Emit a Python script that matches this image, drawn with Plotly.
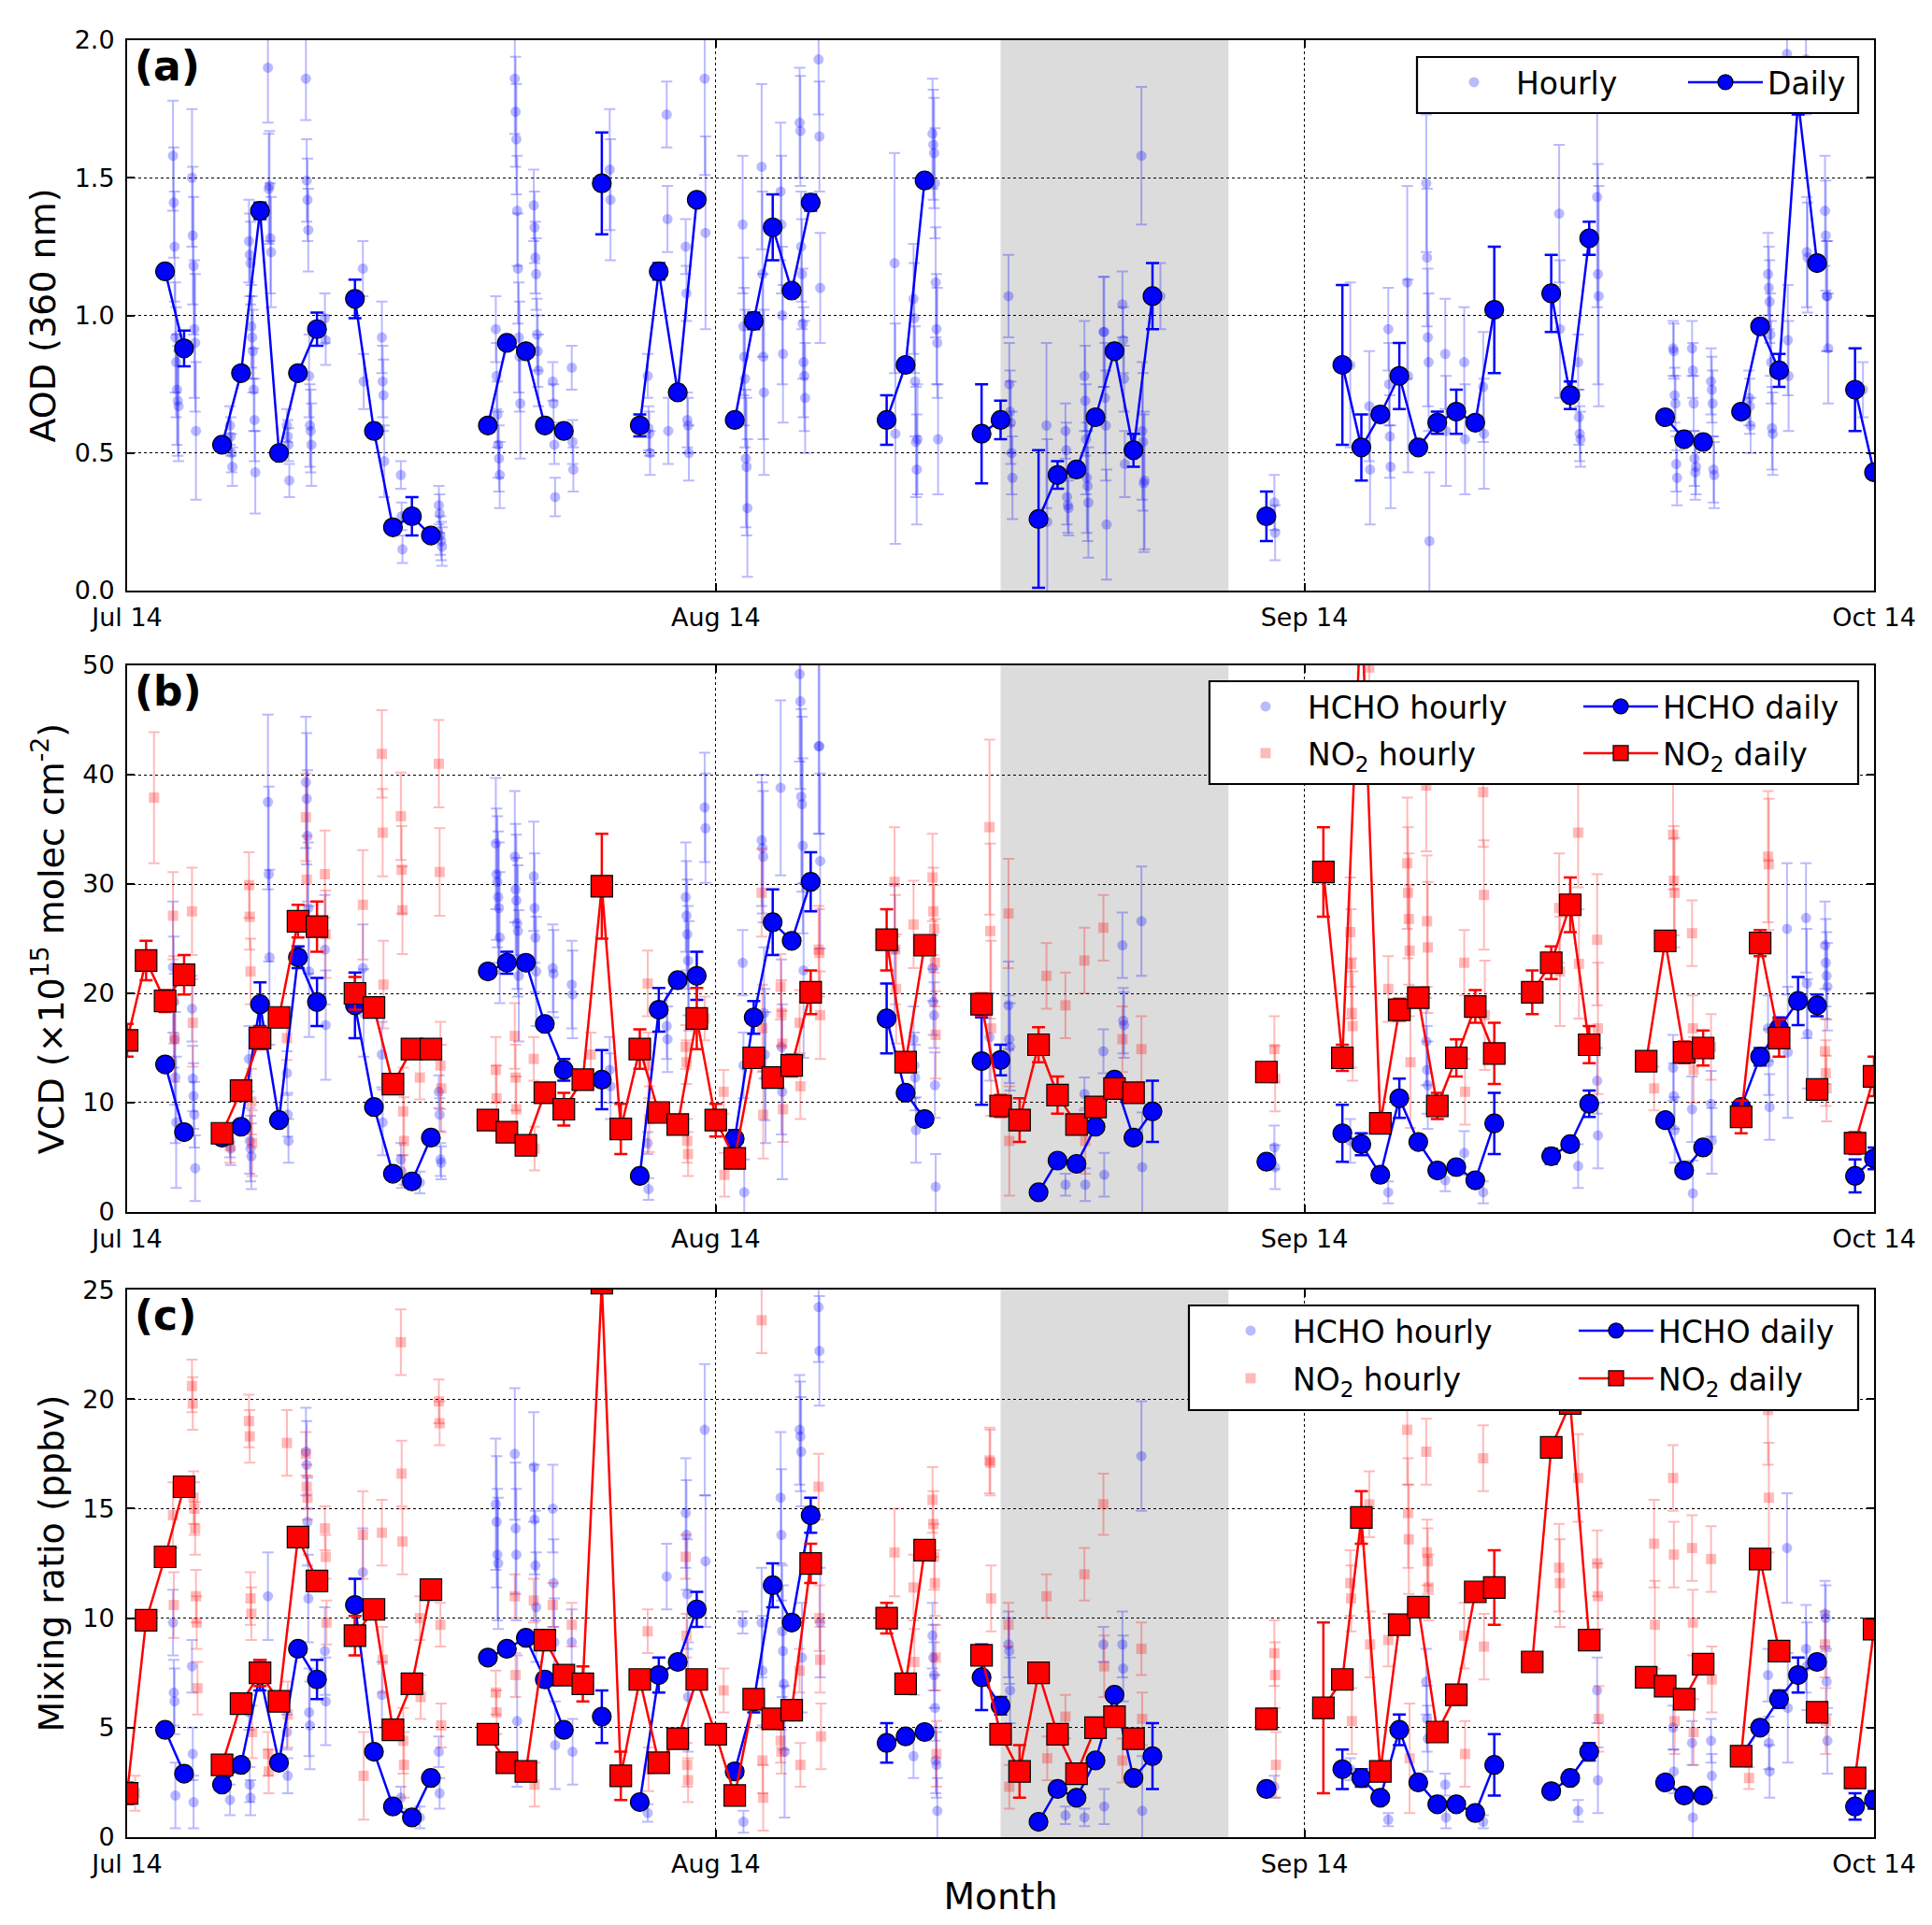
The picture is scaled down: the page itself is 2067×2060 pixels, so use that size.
import pandas as pd
import plotly.graph_objects as go
from plotly.subplots import make_subplots

START = pd.Timestamp("2016-07-14")
END = pd.Timestamp("2016-10-14")
SPAN_START = pd.Timestamp("2016-08-29")
SPAN_END = pd.Timestamp("2016-09-10")

tick_dates = ["2016-07-14", "2016-08-14", "2016-09-14", "2016-10-14"]
tick_text = ["Jul 14", "Aug 14", "Sep 14", "Oct 14"]

# ---- daily data (days counted from Jul 14) ----
hcho_days = [2, 3, 5, 6, 7, 8, 9, 10, 12, 13, 14, 15, 16, 19, 20, 21, 22, 23, 25,
             27, 28, 29, 30, 32, 33, 34, 35, 36, 40, 41, 42, 45, 46, 48, 49, 50, 51,
             52, 53, 54, 60, 64, 65, 66, 67, 68, 69, 70, 71, 72, 75, 76, 77, 81, 82,
             83, 85, 86, 87, 88, 89, 91, 92]
no2_days = [0, 1, 2, 3, 5, 6, 7, 8, 9, 10, 12, 13, 14, 15, 16, 19, 20, 21, 22, 23,
            24, 25, 26, 27, 28, 29, 30, 31, 32, 33, 34, 35, 36, 40, 41, 42, 45, 46,
            47, 48, 49, 50, 51, 52, 53, 60, 63, 64, 65, 66, 67, 68, 69, 70, 71, 72,
            74, 75, 76, 77, 80, 81, 82, 83, 85, 86, 87, 89, 91, 92]

aod_daily = [1.16, 0.88, 0.53, 0.79, 1.38, 0.50, 0.79, 0.95, 1.06, 0.58, 0.23, 0.27, 0.20,
             0.60, 0.90, 0.87, 0.60, 0.58, 1.48, 0.60, 1.16, 0.72, 1.42, 0.62, 0.98, 1.32,
             1.09, 1.41, 0.62, 0.82, 1.49, 0.57, 0.62, 0.26, 0.42, 0.44, 0.63, 0.87, 0.51,
             1.07, 0.27, 0.82, 0.52, 0.64, 0.78, 0.52, 0.61, 0.65, 0.61, 1.02, 1.08, 0.71,
             1.28, 0.63, 0.55, 0.54, 0.65, 0.96, 0.80, 1.78, 1.19, 0.73, 0.43]
aod_daily_err = [0.02, 0.065, 0.02, 0.02, 0.03, 0.02, 0.02, 0.06, 0.07, 0.02, 0.02, 0.07, 0.02,
                 0.02, 0.02, 0.02, 0.02, 0.02, 0.185, 0.04, 0.03, 0.02, 0.02, 0.02, 0.03, 0.12,
                 0.02, 0.03, 0.09, 0.02, 0.02, 0.18, 0.07, 0.25, 0.05, 0.02, 0.02, 0.02, 0.06,
                 0.12, 0.09, 0.29, 0.12, 0.02, 0.12, 0.02, 0.04, 0.08, 0.02, 0.23, 0.14, 0.05,
                 0.06, 0.02, 0.02, 0.02, 0.02, 0.02, 0.06, 0.05, 0.02, 0.15, 0.02]

hcho_vcd_daily = [13.5, 7.3, 6.8, 7.8, 19.0, 8.4, 23.3, 19.2, 18.9, 9.6, 3.5, 2.8, 6.8,
                  22.0, 22.8, 22.8, 17.2, 13.0, 12.1, 3.3, 18.5, 21.2, 21.6, 6.7, 17.8, 26.5,
                  24.8, 30.2, 17.7, 10.9, 8.5, 13.8, 13.9, 1.8, 4.7, 4.4, 7.8, 12.1, 6.8,
                  9.2, 4.6, 7.2, 6.2, 3.4, 10.4, 6.4, 3.8, 4.1, 2.9, 8.1, 5.1, 6.2,
                  9.9, 8.4, 3.8, 5.9, 9.6, 14.2, 16.8, 19.3, 18.9, 3.3, 4.9]
hcho_vcd_daily_err = [0.5, 0.5, 0.5, 0.5, 2.0, 0.5, 1.0, 2.2, 3.0, 0.5, 0.5, 0.5, 0.5,
                      0.5, 1.0, 0.5, 0.5, 1.0, 2.7, 0.5, 2.0, 0.5, 2.2, 0.8, 1.5, 3.0,
                      0.5, 2.7, 3.2, 0.5, 0.5, 4.0, 1.4, 0.5, 0.5, 0.5, 0.5, 0.5, 0.5,
                      2.8, 0.5, 2.6, 1.0, 0.5, 1.8, 0.5, 0.5, 0.5, 0.5, 2.8, 0.7, 0.5,
                      1.2, 0.5, 0.5, 0.5, 0.5, 0.8, 1.0, 2.2, 1.0, 1.5, 1.0]

no2_vcd_daily = [15.7, 23.0, 19.3, 21.7, 7.2, 11.1, 15.9, 17.8, 26.6, 26.1, 20.0, 18.7, 11.7,
                 14.9, 14.9, 8.4, 7.3, 6.1, 10.9, 9.4, 12.1, 29.8, 7.6, 14.9, 9.1, 8.0, 17.7,
                 8.4, 4.9, 14.1, 12.3, 13.4, 20.1, 24.9, 13.7, 24.4, 19.0, 9.7, 8.4, 15.3,
                 10.7, 8.0, 9.6, 11.3, 10.9, 12.8, 31.1, 14.1, 56.0, 8.1, 18.5, 19.6, 9.7,
                 14.1, 18.8, 14.5, 20.1, 22.8, 28.1, 15.3, 13.8, 24.8, 14.6, 15.0, 8.7, 24.6,
                 15.9, 11.2, 6.3, 12.4]
no2_vcd_daily_err = [1.5, 1.8, 1.0, 1.8, 0.5, 0.5, 1.0, 0.5, 1.5, 2.3, 1.5, 0.5, 0.5,
                     0.5, 0.5, 0.5, 0.5, 0.5, 0.5, 1.5, 0.5, 4.8, 2.3, 1.8, 0.5, 0.5, 2.8,
                     1.5, 0.5, 0.5, 0.5, 1.0, 2.0, 2.8, 0.5, 0.5, 1.0, 1.0, 2.0, 1.6,
                     1.7, 0.5, 0.5, 0.5, 0.5, 0.5, 4.1, 1.2, 1.0, 0.5, 1.0, 0.5, 1.2,
                     1.7, 1.5, 2.8, 2.0, 1.5, 2.5, 1.7, 0.5, 0.5, 1.0, 1.6, 1.5, 1.2,
                     1.7, 0.5, 1.0, 1.8]

hcho_mr_daily = [4.9, 2.9, 2.4, 3.3, 7.4, 3.4, 8.6, 7.2, 10.6, 3.9, 1.4, 0.9, 2.7,
                 8.2, 8.6, 9.1, 7.2, 4.9, 5.5, 1.6, 7.4, 8.0, 10.4, 3.0, 6.2, 11.5,
                 9.8, 14.7, 4.3, 4.6, 4.8, 7.3, 6.0, 0.7, 2.2, 1.8, 3.5, 6.5, 2.7,
                 3.7, 2.2, 3.1, 2.7, 1.8, 4.9, 2.5, 1.5, 1.5, 1.1, 3.3, 2.1, 2.7,
                 3.9, 2.5, 1.9, 1.9, 3.7, 5.0, 6.3, 7.4, 8.0, 1.4, 1.7]
hcho_mr_daily_err = [0.2, 0.2, 0.2, 0.2, 0.7, 0.2, 0.2, 0.9, 1.2, 0.2, 0.2, 0.2, 0.2,
                     0.2, 0.2, 0.2, 0.2, 0.2, 1.2, 0.2, 0.8, 0.2, 0.8, 0.3, 0.5, 1.0,
                     0.2, 0.8, 0.9, 0.2, 0.2, 1.5, 0.4, 0.2, 0.2, 0.2, 0.2, 0.2, 0.2,
                     1.5, 0.2, 0.9, 0.4, 0.2, 0.7, 0.2, 0.2, 0.2, 0.2, 1.4, 0.3, 0.2,
                     0.4, 0.2, 0.2, 0.2, 0.2, 0.3, 0.4, 0.8, 0.3, 0.6, 0.4]

no2_mr_daily = [2.0, 9.9, 12.8, 16.0, 3.3, 6.1, 7.5, 6.2, 13.7, 11.7, 9.2, 10.4, 4.9,
                7.0, 11.3, 4.7, 3.4, 3.0, 9.0, 7.4, 7.0, 25.3, 2.8, 7.2, 3.4, 4.5, 7.2,
                4.7, 1.9, 6.3, 5.4, 5.8, 12.5, 10.0, 7.0, 13.1, 8.3, 4.7, 3.0, 7.5,
                4.7, 2.9, 5.0, 5.5, 4.5, 5.4, 5.9, 7.2, 14.6, 3.0, 9.7, 10.5, 4.8,
                6.5, 11.2, 11.4, 8.0, 17.8, 19.8, 9.0, 7.3, 6.9, 6.3, 7.9, 3.7, 12.7,
                8.5, 5.7, 2.7, 9.5]
no2_mr_daily_err = [0.5, 0.3, 0.3, 0.3, 0.2, 0.2, 0.6, 0.2, 0.2, 0.3, 0.9, 0.2, 0.2,
                    0.2, 0.2, 0.2, 0.2, 0.2, 0.2, 0.2, 0.8, 0.4, 1.1, 0.2, 0.2, 0.2, 0.2,
                    0.2, 0.2, 0.2, 0.2, 0.2, 0.9, 0.7, 0.2, 0.2, 0.2, 0.2, 1.2, 0.1,
                    0.2, 0.2, 0.2, 0.2, 0.2, 0.2, 3.9, 0.3, 1.2, 0.2, 0.3, 0.3, 0.3,
                    0.3, 0.3, 1.7, 0.2, 0.3, 0.3, 0.3, 0.2, 0.2, 0.2, 0.2, 0.2, 0.3,
                    0.3, 0.2, 0.2, 0.3]

# ---- hourly data: day, values from 10 h local onwards, one error per day ----
aod_hr_days = [2, 3, 5, 6, 7, 8, 9, 10, 12, 13, 14, 16, 19, 20, 21, 22, 23, 25, 27, 28,
               29, 30, 32, 33, 34, 35, 36, 40, 41, 42, 46, 48, 49, 50, 51, 52, 53, 54,
               60, 64, 65, 66, 67, 68, 69, 70, 71, 75, 76, 77, 81, 82, 83, 85, 86, 87,
               88, 89, 91]
aod_hr = [[1.58, 1.41, 1.25, 0.92, 0.83, 0.73, 0.69, 0.67], [1.50, 1.29, 1.18, 0.95, 0.90, 0.58],
          [0.60, 0.56, 0.50, 0.45], [1.27, 1.22, 1.19, 0.96, 0.92, 0.87, 0.73, 0.62, 0.43],
          [1.90, 1.46, 1.47, 1.28, 1.23], [0.60, 0.56, 0.53, 0.40],
          [1.86, 1.49, 1.42, 1.31, 0.78, 0.60, 0.58, 0.53], [0.99, 0.91], [1.17, 0.76],
          [0.92, 0.76, 0.71, 0.47], [0.42, 0.27, 0.15], [0.31, 0.28, 0.20, 0.18, 0.16],
          [0.95, 0.78, 0.64, 0.53, 0.48, 0.42], [1.86, 1.74, 1.64, 1.38, 1.17, 0.92, 0.85, 0.68],
          [1.40, 1.32, 1.21, 1.15, 0.93, 0.87, 0.80], [0.76, 0.68, 0.53, 0.34], [0.81, 0.54, 0.44],
          [1.53, 1.42], [0.78, 0.59, 0.57, 0.50], [1.73, 1.35, 0.58], [1.25, 1.08, 0.62, 0.60, 0.50],
          [1.86, 1.30], [1.33, 0.96, 0.85, 0.77, 0.48, 0.45, 0.30], [1.54, 1.15, 0.85, 0.72],
          [1.45, 1.33, 1.00, 0.86], [1.70, 1.67, 1.25, 1.15, 0.97, 0.83, 0.78, 0.70],
          [1.93, 1.65, 1.10], [1.19, 0.57], [1.06, 0.99, 0.76, 0.54, 0.44, 0.55],
          [1.66, 1.62, 1.59, 1.48, 1.12, 0.95, 0.90, 0.55], [1.07, 0.75, 0.65, 0.61, 0.50, 0.41],
          [0.60, 0.25], [0.58, 0.51, 0.34, 0.31, 0.30], [0.78, 0.69, 0.55, 0.41, 0.38, 0.32],
          [0.94, 0.94, 0.70, 0.60, 0.24], [1.04, 0.91, 0.77, 0.46], [1.58, 0.58, 0.54, 0.39, 0.40],
          [1.07], [0.32, 0.21], [0.82], [0.67, 0.44], [0.95, 0.75, 0.56, 0.45], [1.12, 0.78],
          [1.48, 1.21, 0.92, 0.83, 0.18], [0.86, 0.58], [0.83, 0.55], [0.74, 0.57], [1.37, 0.95],
          [0.83, 0.63, 0.57, 0.55], [1.43, 1.15, 1.07], [0.88, 0.87, 0.71, 0.68, 0.46, 0.41],
          [0.88, 0.80, 0.68, 0.48, 0.43, 0.45], [0.76, 0.73, 0.68, 0.44, 0.42], [0.70, 0.67, 0.60],
          [1.15, 1.10, 1.05, 0.93, 0.83, 0.59, 0.57], [1.95, 0.91, 0.78], [1.93, 1.23, 1.21],
          [1.38, 1.29, 1.07, 1.07, 0.88], [0.73]]
aod_hr_err = [0.2, 0.25, 0.07, 0.15, 0.2, 0.06, 0.15, 0.09, 0.1, 0.13, 0.05, 0.07, 0.12, 0.2,
              0.13, 0.07, 0.08, 0.22, 0.08, 0.12, 0.1, 0.35, 0.25, 0.3, 0.25, 0.2, 0.2, 0.4,
              0.2, 0.2, 0.15, 0.3, 0.1, 0.2, 0.2, 0.12, 0.25, 0.12, 0.1, 0.3, 0.2, 0.15,
              0.35, 0.25, 0.2, 0.2, 0.2, 0.25, 0.1, 0.4, 0.1, 0.1, 0.12, 0.1, 0.15, 0.2,
              0.2, 0.2, 0.1]

hcho_vcd_hr_days = [2, 3, 5, 6, 7, 8, 9, 10, 12, 13, 14, 15, 16, 19, 20, 21, 22, 23, 25, 27,
                    28, 29, 30, 32, 33, 34, 35, 36, 40, 41, 42, 45, 46, 49, 50, 51, 52, 53,
                    60, 64, 66, 68, 69, 70, 71, 76, 77, 81, 82, 83, 86, 87, 88, 89]
hcho_vcd_hr = [[22.4, 19.2, 15.8, 12.3, 8.2], [18.6, 12.2, 10.6, 8.9, 4.0], [6.5, 5.8],
               [14.0, 6.5, 5.8, 5.1], [37.5, 30.9, 23.3], [12.7, 8.9, 6.5],
               [39.3, 37.8, 34.4, 27.8, 22.0], [24.0, 17.1], [22.3, 18.2], [14.4, 8.2],
               [4.8, 3.7], [2.7], [11.0, 8.9, 4.8, 4.5], [33.7, 30.9, 30.2, 28.8, 27.8, 25.1],
               [32.5, 29.5, 28.5, 26.4, 25.7, 21.6], [30.7, 27.8, 25.1, 22.0], [22.3, 21.8],
               [20.8, 19.9], [13.0, 11.5], [6.3, 2.1], [17.0, 15.8], [28.8, 27.1, 25.4, 23.0, 21.6],
               [37.0, 35.1], [22.8, 13.4, 1.8], [34.0, 33.3, 32.5, 18.2, 14.4, 12.3],
               [38.8, 15.1, 11.0], [49.2, 46.7, 38.0, 37.3, 33.5, 22.1], [42.6, 42.6, 32.1],
               [24.0], [15.8, 13.4, 12.3, 7.5], [22.3, 19.2, 18.0, 11.6, 2.3], [16.0],
               [18.9, 15.8, 15.1], [2.5], [10.8, 2.5], [14.7, 3.4], [24.4, 17.5, 17.1],
               [26.6, 4.1], [5.9, 4.1], [6.5], [1.8], [15.6, 13.0, 11.6], [2.9], [5.4], [1.8],
               [4.2], [12.0, 7.0], [13.2, 10.6, 7.5], [9.4, 1.7], [9.9, 6.5], [16.8, 13.7, 9.6],
               [25.9, 14.6], [26.9, 20.9, 16.3], [24.4, 22.8, 21.6, 20.6]]
hcho_vcd_hr_err = [6, 3, 1.5, 3, 8, 2, 6, 5, 4, 3, 1.5, 1, 1.5, 6, 6, 5, 4, 4, 3, 1, 3, 5,
                   5, 3, 6, 8, 8, 8, 6, 3, 3, 4, 4, 1, 1.5, 2, 3, 5, 2, 2, 1, 4, 1, 2, 1,
                   2, 3, 3, 3, 3, 3, 6, 5, 4]

no2_vcd_hr_days = [1, 2, 3, 5, 6, 8, 9, 10, 12, 13, 14, 15, 16, 19, 20, 21, 24, 27, 29, 30,
                   31, 33, 34, 35, 36, 40, 41, 42, 45, 46, 48, 49, 50, 51, 52, 53, 60, 64,
                   65, 66, 67, 68, 70, 71, 75, 76, 77, 80, 81, 82, 83, 86, 89]
no2_vcd_hr = [[37.9], [27.1, 19.4, 15.9], [27.5, 17.3], [6.0], [29.9, 27.0, 22.0, 10.1, 6.3],
              [15.9], [36.1, 30.4], [30.9, 25.4], [28.1], [41.9, 34.7, 20.8],
              [36.2, 31.3, 27.6, 9.2, 6.5], [12.3], [41.0, 31.1, 13.4, 11.3], [13.0, 10.4],
              [16.1, 12.3, 9.4], [14.0, 5.8], [14.4], [20.9, 13.4, 8.5], [15.1, 13.7, 6.5, 5.3],
              [17.7], [11.0, 3.4], [29.2, 16.8, 8.9], [20.6, 18.2, 15.4, 9.4], [17.3, 11.5],
              [24.0, 23.7, 18.0], [30.2, 24.0, 20.4], [26.3], [30.6, 27.5, 25.9, 22.8, 16.2],
              [35.2, 25.7, 16.8], [27.3, 6.5], [21.6], [18.9], [23.0, 6.5], [26.0], [15.8],
              [14.9], [14.9, 12.2], [25.6, 22.7, 18.2, 17.0], [49.8], [20.4],
              [31.9, 29.2, 26.8, 23.9, 13.7], [39.0, 26.6, 24.2], [22.8, 11.0], [38.4, 29.0, 18.0],
              [27.8, 22.0], [34.7, 22.7], [24.9, 16.8], [11.3], [34.5, 30.3, 29.2],
              [25.5, 16.8, 13.0], [15.1], [32.5, 31.8], [14.7, 12.7, 11.3]]
no2_vcd_hr_err = [6, 4, 4, 1.5, 3, 2, 4, 4, 5, 4, 4, 2, 4, 3, 3, 2, 2, 3, 2, 2, 2, 4, 3, 3,
                  4, 5, 4, 4, 8, 5, 3, 3, 3, 3, 3, 3, 3, 5, 6, 3, 6, 6, 3, 5, 5, 5, 6, 2,
                  5, 3, 3, 6, 3]

hcho_mr_hr_days = [2, 3, 5, 6, 7, 8, 9, 10, 12, 13, 14, 15, 16, 19, 20, 21, 22, 23, 27, 28,
                   29, 30, 32, 33, 34, 35, 36, 41, 42, 46, 49, 50, 51, 52, 53, 60, 64, 66,
                   68, 69, 71, 76, 77, 81, 82, 83, 86, 87, 88, 89]
hcho_mr_hr = [[9.8, 6.6, 6.2, 1.9], [7.8, 3.8, 1.6], [1.7], [5.7, 2.4, 1.8], [11.0], [4.8, 2.8],
              [17.6, 17.0, 14.4, 10.9, 5.7, 5.1], [8.5, 6.2], [12.1], [6.5], [1.8], [0.9],
              [3.9, 2.0], [15.2, 14.4, 12.9, 12.5], [17.5, 14.1, 12.9, 5.3],
              [16.9, 14.5, 12.4, 10.5], [15.0, 11.6, 8.9, 4.2], [8.9, 3.9], [1.1], [11.9],
              [14.8, 13.8, 11.1, 6.4], [18.6, 12.6], [9.8, 0.7], [9.8, 7.6],
              [15.5, 13.8, 9.4, 8.5, 7.0, 3.9], [18.6, 18.3, 17.6, 8.2], [24.2, 22.2, 9.8], [3.7],
              [9.2, 8.2, 7.4, 5.9, 3.5, 3.3, 1.2], [8.8, 8.5, 6.7], [1.0], [0.9], [8.8, 1.4],
              [8.8, 7.7], [17.4, 1.2], [2.3], [3.1], [0.8], [7.1, 5.4, 4.5], [2.4, 0.9], [0.7],
              [1.2], [6.7, 2.6], [5.0, 3.0], [4.3, 0.9], [4.4, 2.8], [7.4, 4.3, 3.0], [13.2, 5.9],
              [8.6, 7.8], [10.2, 10.0, 7.1, 4.4]]
hcho_mr_hr_err = [1.5, 1.2, 0.7, 0.8, 2, 0.8, 2, 2, 2, 1.5, 0.5, 0.5, 0.7, 3, 3, 2.5, 2, 1.5,
                  0.4, 1.5, 2.5, 3, 0.5, 2.5, 3, 2.5, 2.5, 1, 1.5, 1.5, 0.4, 0.4, 0.8, 1.5,
                  2.5, 0.5, 0.5, 0.3, 1.5, 0.5, 0.3, 0.5, 1.5, 1, 1, 1, 1.2, 2.5, 2, 1.5]

no2_mr_hr_days = [0, 2, 3, 6, 7, 8, 9, 10, 12, 13, 14, 15, 16, 19, 20, 21, 22, 23, 27, 29,
                  31, 33, 34, 35, 36, 40, 41, 42, 45, 46, 48, 49, 50, 51, 52, 53, 60, 64,
                  65, 66, 67, 68, 70, 71, 75, 76, 77, 80, 81, 82, 83, 85, 86, 89]
no2_mr_hr = [[2.0], [14.7, 10.6], [20.6, 19.8, 15.5, 15.0, 14.1, 11.0, 9.8, 6.8],
             [19.0, 18.3, 10.9, 10.2, 4.8], [3.8, 3.0], [18.0, 5.6], [17.5, 16.0, 15.5],
             [14.1, 12.8, 9.8], [13.8, 2.8], [13.9, 8.1], [22.6, 16.6, 13.5, 4.4, 3.3], [10.0, 6.4],
             [19.9, 18.9, 9.7, 5.1], [6.6, 5.7], [11.0, 7.4], [10.8, 2.4], [10.6], [9.7], [9.4, 3.1],
             [12.8, 9.2, 3.3, 2.6], [6.7], [23.6, 3.5, 1.8], [4.4, 3.9], [7.6, 3.3],
             [16.0, 10.0, 8.1, 4.6], [13.0], [11.4, 8.0], [15.4, 14.3, 12.8, 11.6, 8.2, 3.8],
             [17.2, 17.1, 10.9], [9.7, 2.3], [11.0, 3.6], [5.5], [12.0], [15.2, 7.8], [3.5],
             [8.6, 5.4], [8.4, 7.4, 3.3], [11.6, 10.9, 5.3], [15.2, 8.8], [9.0],
             [18.6, 14.8, 13.6, 3.6], [17.6, 13.0, 12.6, 11.4], [9.2, 3.8], [17.3, 8.7],
             [12.3, 11.6], [16.4], [12.5, 11.0, 5.4], [13.4, 9.7], [16.4, 12.9, 5.3],
             [13.2, 9.8, 4.8], [12.7, 7.2], [2.7], [19.5, 15.5], [8.8, 5.3]]
no2_mr_hr_err = [0.8, 1.5, 1.2, 1.2, 1, 1.5, 1, 1, 2, 1.5, 1.5, 1, 1, 1, 1, 1, 1, 1, 1, 1, 1,
                 1.5, 1, 1, 1.5, 2, 1.5, 1.5, 1.5, 1, 1, 1, 1.2, 1.4, 1, 1.2, 1.5, 1.5, 1.5,
                 1.2, 2.5, 1.5, 1.5, 1.5, 2, 2, 1.5, 2, 1.5, 1.5, 1.5, 0.5, 2.5, 1.5]

BLUE = "#0000ff"
RED = "#ff0000"
BLUE_A = "rgba(0,0,255,0.27)"
RED_A = "rgba(255,0,0,0.27)"
FONT = "DejaVu Sans"

# figure geometry (px) used to place the legend boxes
W, H = 2067, 2060
ML, MR, MT, MB = 128, 70, 35, 102


def px_x(px):
    return (px - ML) / (W - ML - MR)


def px_y(py):
    return (H - MB - py) / (H - MT - MB)


def daily_series(days, vals, errs):
    look = {d: (v, e) for d, v, e in zip(days, vals, errs)}
    x = [START + pd.Timedelta(days=d) for d in range(93)]
    y = [look[d][0] if d in look else None for d in range(93)]
    e = [look[d][1] if d in look else 0 for d in range(93)]
    return x, y, e


def hourly_series(days, vals, errs):
    x, y, e = [], [], []
    for d, vs, er in zip(days, vals, errs):
        for i, v in enumerate(vs):
            x.append(START + pd.Timedelta(days=d, hours=10 + i))
            y.append(v)
            e.append(er)
    return x, y, e


fig = make_subplots(rows=3, cols=1)


def add_hourly(days, vals, errs, row, name, color, symbol, legend):
    x, y, e = hourly_series(days, vals, errs)
    fig.add_trace(go.Scatter(
        x=x, y=y, mode="markers", name=name, legend=legend, showlegend=True,
        marker=dict(size=11, color=color, symbol=symbol, line=dict(width=0)),
        error_y=dict(type="data", array=e, color=color, thickness=2, width=6),
    ), row=row, col=1)


def add_daily(days, vals, errs, row, name, color, symbol, size, legend):
    x, y, e = daily_series(days, vals, errs)
    fig.add_trace(go.Scatter(
        x=x, y=y, mode="lines+markers", name=name, legend=legend, showlegend=True,
        connectgaps=False,
        line=dict(color=color, width=2.5),
        marker=dict(size=size, color=color, symbol=symbol, line=dict(color="black", width=1.2)),
        error_y=dict(type="data", array=e, color=color, thickness=2.5, width=7),
    ), row=row, col=1)


NO2 = "NO<sub>2</sub>"

add_hourly(aod_hr_days, aod_hr, aod_hr_err, 1, "Hourly", BLUE_A, "circle", "legend")
add_daily(hcho_days, aod_daily, aod_daily_err, 1, "Daily", BLUE, "circle", 20, "legend2")

add_hourly(hcho_vcd_hr_days, hcho_vcd_hr, hcho_vcd_hr_err, 2, "HCHO hourly", BLUE_A, "circle", "legend3")
add_hourly(no2_vcd_hr_days, no2_vcd_hr, no2_vcd_hr_err, 2, NO2 + " hourly", RED_A, "square", "legend4")
add_daily(hcho_days, hcho_vcd_daily, hcho_vcd_daily_err, 2, "HCHO daily", BLUE, "circle", 20, "legend5")
add_daily(no2_days, no2_vcd_daily, no2_vcd_daily_err, 2, NO2 + " daily", RED, "square", 23, "legend6")

add_hourly(hcho_mr_hr_days, hcho_mr_hr, hcho_mr_hr_err, 3, "HCHO hourly", BLUE_A, "circle", "legend7")
add_hourly(no2_mr_hr_days, no2_mr_hr, no2_mr_hr_err, 3, NO2 + " hourly", RED_A, "square", "legend8")
add_daily(hcho_days, hcho_mr_daily, hcho_mr_daily_err, 3, "HCHO daily", BLUE, "circle", 20, "legend9")
add_daily(no2_days, no2_mr_daily, no2_mr_daily_err, 3, NO2 + " daily", RED, "square", 23, "legend10")

# shaded period
for r in (1, 2, 3):
    fig.add_vrect(x0=SPAN_START, x1=SPAN_END, row=r, col=1, fillcolor="#dcdcdc",
                  opacity=1, line_width=0, layer="below")

axis_common = dict(showline=True, linecolor="black", linewidth=2, mirror="ticks",
                   ticks="inside", ticklen=8, tickwidth=1.5, tickcolor="black",
                   showgrid=True, gridcolor="black", griddash="dot", gridwidth=1.3,
                   zeroline=False, tickfont=dict(size=27, color="black", family=FONT))

for r in (1, 2, 3):
    fig.update_xaxes(axis_common, row=r, col=1)
    fig.update_xaxes(type="date", range=[START, END], tickvals=tick_dates, ticktext=tick_text,
                     ticklabelstandoff=4, row=r, col=1)
    fig.update_yaxes(axis_common, row=r, col=1)
    fig.update_yaxes(ticklabelstandoff=6, row=r, col=1)

fig.update_yaxes(range=[0, 2], dtick=0.5, tickformat=".1f", row=1, col=1,
                 title=dict(text="AOD (360 nm)", font=dict(size=38), standoff=8))
fig.update_yaxes(range=[0, 50], dtick=10, row=2, col=1,
                 title=dict(text="VCD (×10<sup>15</sup> molec cm<sup>-2</sup>)",
                            font=dict(size=38), standoff=8))
fig.update_yaxes(range=[0, 25], dtick=5, row=3, col=1,
                 title=dict(text="Mixing ratio (ppbv)", font=dict(size=38), standoff=8))
fig.update_xaxes(title=dict(text="Month", font=dict(size=39), standoff=6), row=3, col=1)

fig.update_layout(
    yaxis=dict(domain=[0.6937, 1.0]),
    yaxis2=dict(domain=[0.3479, 0.6521]),
    yaxis3=dict(domain=[0.0, 0.3047]),
)

# panel letters
for r, lab in zip((1, 2, 3), ("(a)", "(b)", "(c)")):
    sfx = "" if r == 1 else str(r)
    fig.add_annotation(text="<b>" + lab + "</b>", xref="x" + sfx + " domain",
                       yref="y" + sfx + " domain", x=0.003, y=1.0, xanchor="left",
                       yanchor="top", showarrow=False, font=dict(size=44, color="black"))

# legend frames
frames = [(1508, 53, 1980, 113), (1286, 721, 1980, 831), (1264, 1389, 1980, 1501)]
for x0, y0, x1, y1 in frames:
    fig.add_shape(type="rect", xref="paper", yref="paper", x0=px_x(x0), x1=px_x(x1),
                  y0=px_y(y1), y1=px_y(y0), fillcolor="white",
                  line=dict(color="black", width=2.2), layer="above")

# one legend per entry, placed by text position
legend_spots = {
    "legend": (1617, 80), "legend2": (1886, 80),
    "legend3": (1394, 748), "legend4": (1394, 798), "legend5": (1774, 748), "legend6": (1774, 798),
    "legend7": (1378, 1416), "legend8": (1378, 1467), "legend9": (1769, 1416), "legend10": (1769, 1467),
}
ITEMW = 80
legends = {}
for key, (tx, ty) in legend_spots.items():
    legends[key] = dict(x=px_x(tx - ITEMW - 13), y=px_y(ty), xanchor="left", yanchor="middle",
                        bgcolor="rgba(0,0,0,0)", borderwidth=0, itemwidth=ITEMW, visible=True,
                        font=dict(size=33, color="black", family=FONT))

fig.update_layout(
    width=W, height=H,
    margin=dict(l=ML, r=MR, t=MT, b=MB),
    paper_bgcolor="white", plot_bgcolor="white",
    font=dict(family=FONT, color="black"),
    showlegend=True,
    **legends,
)

fig.write_html("out.html")
